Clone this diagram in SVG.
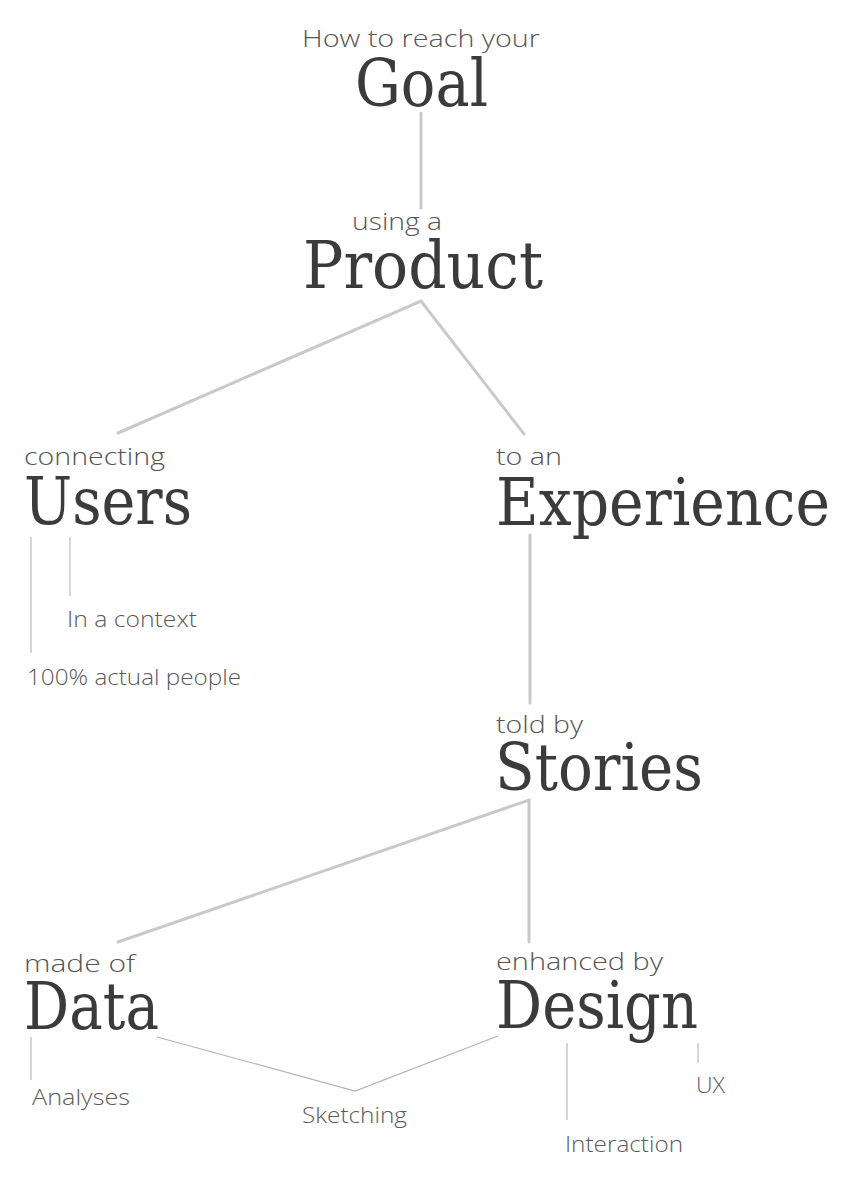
<svg xmlns="http://www.w3.org/2000/svg" width="842" height="1191" viewBox="0 0 842 1191">
<style>
.big{font-family:"DejaVu Serif","Liberation Serif",serif;font-size:66px;fill:#3b3b3c}
.sm{font-family:"Open Sans","Lato","Liberation Sans",sans-serif;font-weight:300;font-size:24px;fill:#555}
.lb{font-family:"Open Sans","Lato","Liberation Sans",sans-serif;font-weight:300;font-size:22px;fill:#5a5a5a}
.main{stroke:#c9c9c9;stroke-width:3;fill:none;stroke-linecap:round}
.sub{stroke:#cccccc;stroke-width:1.6;fill:none}
.thin{stroke:#b3b3b3;stroke-width:1.2;fill:none}
</style>
<rect width="842" height="1191" fill="#ffffff"/>
<g id="connectors">
<line class="main" x1="421" y1="113" x2="421" y2="208"/>
<polyline class="main" points="118,433 421,301 524,434"/>
<line class="main" x1="530" y1="535" x2="530" y2="703"/>
<polyline class="main" points="118,942 529,800 529,942"/>
<line class="sub" x1="31" y1="537" x2="31" y2="653"/>
<line class="sub" x1="70" y1="537" x2="70" y2="596"/>
<line class="sub" x1="31" y1="1037" x2="31" y2="1080"/>
<polyline class="thin" points="157,1037 355,1091 498,1036"/>
<line class="sub" x1="567" y1="1043" x2="567" y2="1120"/>
<line class="sub" x1="698" y1="1043" x2="698" y2="1063"/>
</g>
<g id="goal">
<text class="sm" x="302" y="47" textLength="238" lengthAdjust="spacingAndGlyphs">How to reach your</text>
<text class="big" x="355" y="106" textLength="133" lengthAdjust="spacingAndGlyphs">Goal</text>
</g>
<g id="product">
<text class="sm" x="352" y="230" textLength="90" lengthAdjust="spacingAndGlyphs">using a</text>
<text class="big" x="303" y="288" textLength="240" lengthAdjust="spacingAndGlyphs">Product</text>
</g>
<g id="users">
<text class="sm" x="24" y="465" textLength="141" lengthAdjust="spacingAndGlyphs">connecting</text>
<text class="big" x="24" y="524" textLength="168" lengthAdjust="spacingAndGlyphs">Users</text>
</g>
<g id="context">
<text class="lb" x="67" y="627" textLength="130" lengthAdjust="spacingAndGlyphs">In a context</text>
</g>
<g id="people">
<text class="lb" x="27" y="685" textLength="214" lengthAdjust="spacingAndGlyphs">100% actual people</text>
</g>
<g id="experience">
<text class="sm" x="496" y="465" textLength="66" lengthAdjust="spacingAndGlyphs">to an</text>
<text class="big" x="496" y="525" textLength="334" lengthAdjust="spacingAndGlyphs">Experience</text>
</g>
<g id="stories">
<text class="sm" x="496" y="733" textLength="87" lengthAdjust="spacingAndGlyphs">told by</text>
<text class="big" x="495" y="790" textLength="208" lengthAdjust="spacingAndGlyphs">Stories</text>
</g>
<g id="data">
<text class="sm" x="24" y="972" textLength="111" lengthAdjust="spacingAndGlyphs">made of</text>
<text class="big" x="24" y="1029" textLength="135" lengthAdjust="spacingAndGlyphs">Data</text>
</g>
<g id="design">
<text class="sm" x="496" y="970" textLength="167" lengthAdjust="spacingAndGlyphs">enhanced by</text>
<text class="big" x="496" y="1028" textLength="202" lengthAdjust="spacingAndGlyphs">Design</text>
</g>
<g id="analyses">
<text class="lb" x="32" y="1105" textLength="98" lengthAdjust="spacingAndGlyphs">Analyses</text>
</g>
<g id="sketching">
<text class="lb" x="302" y="1123" textLength="105" lengthAdjust="spacingAndGlyphs">Sketching</text>
</g>
<g id="interaction">
<text class="lb" x="565" y="1152" textLength="118" lengthAdjust="spacingAndGlyphs">Interaction</text>
</g>
<g id="ux">
<text class="lb" x="696" y="1093" textLength="29" lengthAdjust="spacingAndGlyphs">UX</text>
</g>
</svg>
